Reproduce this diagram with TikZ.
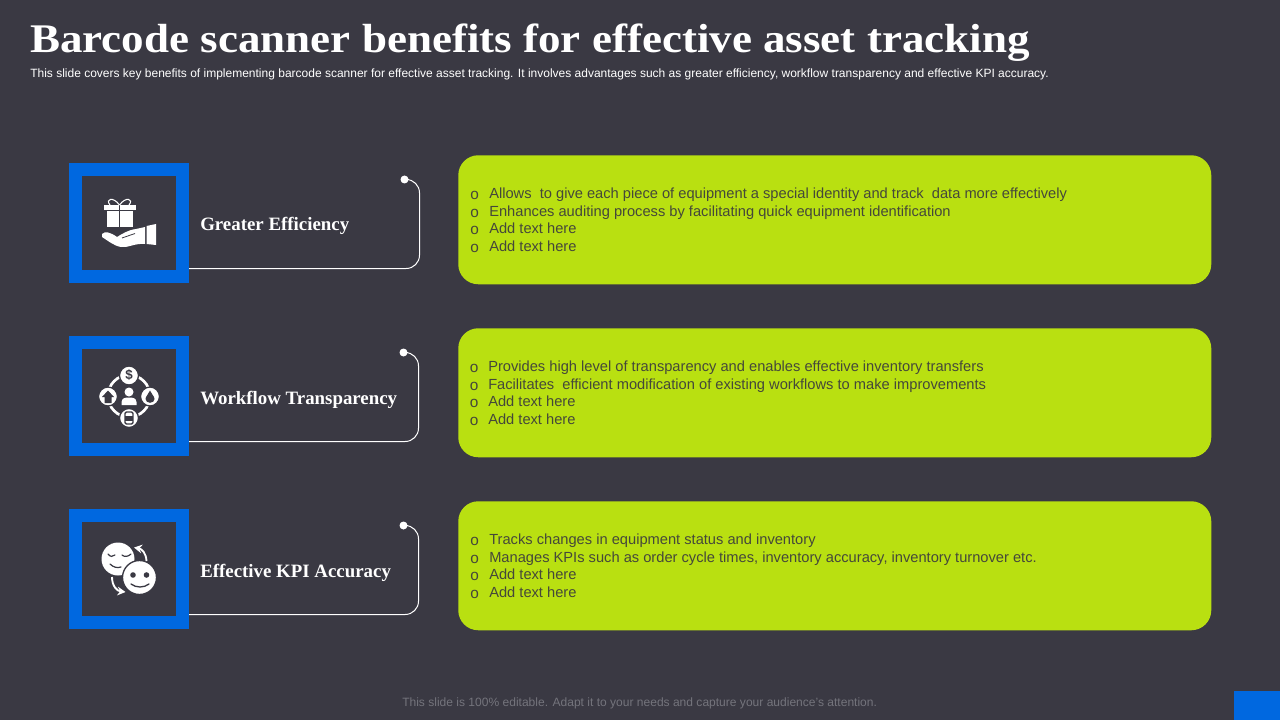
\documentclass[tikz,border=0pt]{standalone}
\usepackage{fontspec}
\setmainfont{Liberation Sans}
\newfontfamily\headfont{Liberation Serif}
\newfontfamily\titlefont[FakeStretch=1.107]{Liberation Serif}
\usetikzlibrary{arrows.meta}
\definecolor{slidebg}{HTML}{3A3943}
\definecolor{iconblue}{HTML}{0068E0}
\definecolor{limefill}{HTML}{B9E011}
\definecolor{bodygray}{HTML}{45483A}
\definecolor{footgray}{HTML}{74747C}
\tikzset{
  headtext/.style={anchor=base west, inner sep=0pt, text=white, font=\titlefont\bfseries\fontsize{30.5pt}{32pt}\selectfont},
  subtext/.style={anchor=base west, inner sep=0pt, text=white, font=\fontsize{9pt}{10pt}\selectfont},
  foottext/.style={anchor=base west, inner sep=0pt, text=footgray, font=\fontsize{9.03pt}{10pt}\selectfont},
  iconbox/.style={draw=iconblue, line width=9.75pt, fill=slidebg, minimum size=80.25pt, inner sep=0pt},
  labeltext/.style={anchor=base west, inner sep=0pt, text=white, font=\headfont\bfseries\fontsize{14.15pt}{16pt}\selectfont},
  limebox/.style={fill=limefill, rounded corners=15pt, anchor=north west, minimum width=564.75pt, minimum height=96.75pt, inner sep=0pt},
  bodytext/.style={anchor=base west, inner sep=0pt, text=bodygray, font=\fontsize{11pt}{13pt}\selectfont},
  bulletmark/.style={anchor=base west, inner sep=0pt, text=bodygray, font=\fontsize{11.5pt}{13pt}\selectfont},
  linkline/.style={draw=white, line width=.75pt, rounded corners=10pt},
  enddot/.style={circle, fill=white, minimum size=6pt, inner sep=0pt},
  iconfill/.style={fill=white, draw=none},
  iconcut/.style={draw=slidebg, line width=.6pt},
}
\begin{document}
\begin{tikzpicture}[x=.75pt,y=-.75pt]
\useasboundingbox (0,0) rectangle (1280,720);
\fill[slidebg] (0,0) rectangle (1280,720);

% Title and footer
\node[headtext] (title) at (30,53) {Barcode scanner benefits for effective asset tracking};
\node[subtext] (subtitle) at (30,77.5) {This slide covers key benefits of implementing barcode scanner for effective asset tracking. It involves advantages such as greater efficiency, workflow transparency and effective KPI accuracy.};
\node[foottext] (footer) at (402,706) {This slide is 100\% editable. Adapt it to your needs and capture your audience’s attention.};
\fill[iconblue] (1234,691) rectangle (1280,720);

% Left column
\node[iconbox] (efficiency) at (129,223) {};
\node[iconbox] (workflow) at (129,396) {};
\node[iconbox] (accuracy) at (129,569) {};
\node[labeltext] (efficiencylabel) at (200,231) {Greater Efficiency};
\node[labeltext] (workflowlabel) at (200,404) {Workflow Transparency};
\node[labeltext] (accuracylabel) at (200,577) {Effective KPI Accuracy};

% Connectors
\coordinate (efficiencyfoot) at (189,268.5);
\coordinate (workflowfoot) at (189,441.5);
\coordinate (accuracyfoot) at (189,614.5);
\node[enddot] (efficiencydot) at (404.5,179.5) {};
\node[enddot] (workflowdot) at (403.5,352.5) {};
\node[enddot] (accuracydot) at (403.5,525.5) {};
\draw[linkline] (efficiencyfoot) -- (419.5,268.5) -- (419.5,179.5) -- (efficiencydot);
\draw[linkline] (workflowfoot) -- (418.5,441.5) -- (418.5,352.5) -- (workflowdot);
\draw[linkline] (accuracyfoot) -- (418.5,614.5) -- (418.5,525.5) -- (accuracydot);

% Gift on a hand
\fill[iconfill] (104,205) rectangle (135.5,210);
\fill[iconfill] (107,211.5) rectangle (133,227);
\draw[iconcut] (119.5,205) -- (119.5,227);
\draw[white, line width=.8pt] (119.5,205) .. controls (113,196) and (105,199) .. (110,205);
\draw[white, line width=.8pt] (119.5,205) .. controls (126,196) and (134,199) .. (129,205);
\fill[iconfill] (102,234) .. controls (105,231) and (110,232) .. (117,237) .. controls (122,234) and (128,230) .. (136,229) -- (145,227) -- (145,244) .. controls (135,243) and (128,248) .. (121,247) .. controls (114,246) and (107,240) .. (102,237) -- cycle;
\fill[iconfill] (146.5,226) -- (156,224) -- (156,245) -- (146.5,244) -- cycle;
\draw[iconcut] (122,238) -- (135,233.5);

% Circle of people and goods
\draw[white, line width=2pt] (129,396) circle (21);
\foreach \cx/\cy in {129/375.5, 108/396.5, 150/396.5, 129/418}
  \filldraw[fill=white, draw=slidebg, line width=1pt] (\cx,\cy) circle (9.5);
\fill[iconfill] (129,392) circle (4.5);
\fill[iconfill] (121.5,405) -- (121.5,402) .. controls (122,398) and (125,397.5) .. (129,397.5) .. controls (133,397.5) and (136,398) .. (136.5,402) -- (136.5,405) -- cycle;
\node[inner sep=0pt, text=slidebg, font=\bfseries\fontsize{10pt}{11pt}\selectfont] (dollar) at (129,375.5) {\$};
\fill[slidebg] (108,390.5) -- (102,397) -- (104.5,397) -- (104.5,403) -- (111.5,403) -- (111.5,397) -- (114,397) -- cycle;
\fill[slidebg] (150,390.5) .. controls (149,394) and (145.5,396) .. (145.5,399) .. controls (145.5,404) and (154.5,404) .. (154.5,399) .. controls (154.5,396) and (151,394) .. (150,390.5) -- cycle;
\draw[slidebg, line width=1pt, rounded corners=1pt] (125,412) rectangle (133,424);
\fill[slidebg] (125,415.5) rectangle (133,420.5);

% Two faces and arrows
\fill[iconfill] (118,559) circle (16.5);
\draw[slidebg, line width=.9pt, line cap=round] (108,554) .. controls (110,557) and (113,557) .. (115,555);
\draw[slidebg, line width=.9pt, line cap=round] (122,555) .. controls (124,557) and (128,557) .. (131,554);
\draw[slidebg, line width=.9pt, line cap=round] (110,564) .. controls (113,567) and (117,568.5) .. (121,567);
\filldraw[fill=white, draw=slidebg, line width=1pt] (139.5,577.5) circle (17);
\fill[slidebg] (133,575) circle (2.8);
\fill[slidebg] (146.5,575) circle (2.8);
\draw[slidebg, line width=1pt, line cap=round] (131,584) .. controls (136,588) and (144,588) .. (149,584);
\draw[white, line width=1.4pt, -{Stealth[length=6pt,width=6.5pt]}] (146.5,561) .. controls (146,553) and (142,549) .. (134,547.5);
\draw[white, line width=1.4pt, -{Stealth[length=6pt,width=6.5pt]}] (112,577) .. controls (112,586) and (117,591) .. (125.5,592);

% Lime panels
\node[limebox] (efficiencypanel) at (458,155) {};
\node[limebox] (workflowpanel) at (458,328) {};
\node[limebox] (accuracypanel) at (458,501) {};

\node[bulletmark] (bulleta1) at (470,199.5) {o};
\node[bulletmark] (bulleta2) at (470,217.5) {o};
\node[bulletmark] (bulleta3) at (470,234.5) {o};
\node[bulletmark] (bulleta4) at (470,252.5) {o};
\node[bodytext] (texta1) at (489,198.5) {Allows\ \ to give each piece of equipment a special identity and track\ \ data more effectively};
\node[bodytext] (texta2) at (489,216.5) {Enhances auditing process by facilitating quick equipment identification};
\node[bodytext] (texta3) at (489,233.5) {Add text here};
\node[bodytext] (texta4) at (489,251.5) {Add text here};

\node[bulletmark] (bulletb1) at (469.5,372.5) {o};
\node[bulletmark] (bulletb2) at (469.5,390.5) {o};
\node[bulletmark] (bulletb3) at (469.5,407.5) {o};
\node[bulletmark] (bulletb4) at (469.5,425.5) {o};
\node[bodytext] (textb1) at (488,371.5) {Provides high level of transparency and enables effective inventory transfers};
\node[bodytext] (textb2) at (488,389.5) {Facilitates\ \ efficient modification of existing workflows to make improvements};
\node[bodytext] (textb3) at (488,406.5) {Add text here};
\node[bodytext] (textb4) at (488,424.5) {Add text here};

\node[bulletmark] (bulletc1) at (470,545.5) {o};
\node[bulletmark] (bulletc2) at (470,563.5) {o};
\node[bulletmark] (bulletc3) at (470,580.5) {o};
\node[bulletmark] (bulletc4) at (470,598.5) {o};
\node[bodytext] (textc1) at (489,544.5) {Tracks changes in equipment status and inventory};
\node[bodytext] (textc2) at (489,562.5) {Manages KPIs such as order cycle times, inventory accuracy, inventory turnover etc.};
\node[bodytext] (textc3) at (489,579.5) {Add text here};
\node[bodytext] (textc4) at (489,597.5) {Add text here};
\end{tikzpicture}
\end{document}
